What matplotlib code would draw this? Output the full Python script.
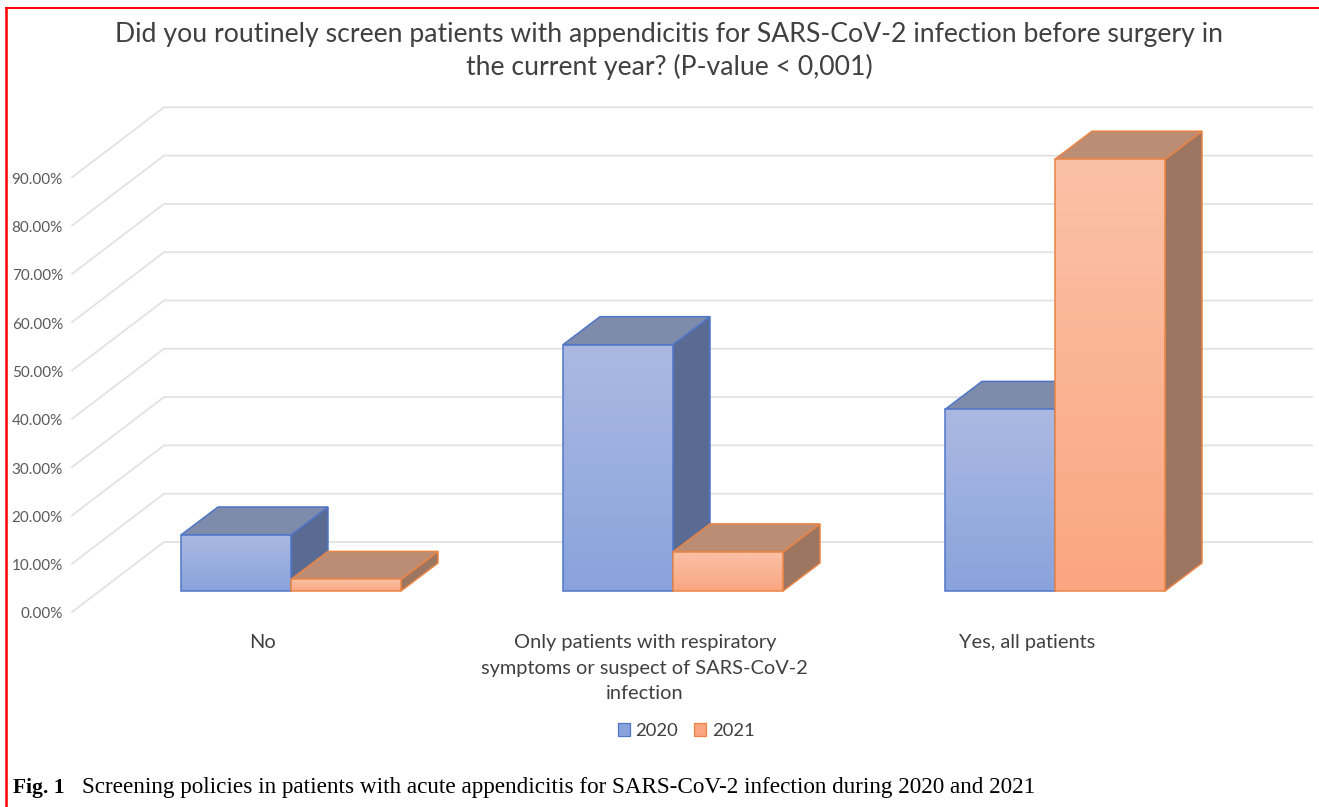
import matplotlib
matplotlib.use("Agg")
import matplotlib.pyplot as plt
import numpy as np
from matplotlib.colors import LinearSegmentedColormap
from matplotlib.lines import Line2D
from matplotlib.patches import Patch, Polygon

categories = ["No",
              "Only patients with respiratory\nsymptoms or suspect of SARS-CoV-2\ninfection",
              "Yes, all patients"]
years = ["2020", "2021"]
values_2020 = [11.6, 51.0, 37.6]
values_2021 = [2.4, 8.1, 89.4]
tick_values = [0, 10, 20, 30, 40, 50, 60, 70, 80, 90]
title = ("Did you routinely screen patients with appendicitis for SARS-CoV-2 infection before surgery in\n"
         "the current year? (P-value < 0,001)")
caption_bold = "Fig. 1"
caption = "Screening policies in patients with acute appendicitis for SARS-CoV-2 infection during 2020 and 2021"

W, H = 1319, 807
PX_X = 382.0    # pixels per category
PX_Y = 4.83     # pixels per percent
X0, Y0 = 291.0, 591.0   # pixel of category 0, value 0

BAR_W = 110 / PX_X
DEPTH_X = 37 / PX_X
DEPTH_Y = 28 / PX_Y
# walls of the 3d box, relative to the bar floor
WALL_LEFT = (164 - X0) / PX_X
WALL_RIGHT = (1312 - X0) / PX_X
WALL_BACK = (591 - 542) / PX_Y
SIDE_DX = 92 / PX_X
SIDE_DY = 70 / PX_Y
LABEL_SHIFT = -0.074

STYLE = {
    "2020": dict(edge="#4F76C6", top="#7E8BAB", side="#5A6B93", face=("#ABB9E2", "#8AA3DC")),
    "2021": dict(edge="#E98445", top="#BB8D74", side="#9D7661", face=("#FAC1A7", "#FAA680")),
}

plt.rcParams["font.family"] = ["Lato", "DejaVu Sans"]

fig = plt.figure(figsize=(W / 100, H / 100), dpi=100)
ax = fig.add_axes([0, 0, 1, 1])
ax.axis("off")


def draw_bar(ax, x, value, style):
    dx, dy = DEPTH_X, DEPTH_Y
    front = [(x, 0), (x + BAR_W, 0), (x + BAR_W, value), (x, value)]
    top = [(x, value), (x + BAR_W, value), (x + BAR_W + dx, value + dy), (x + dx, value + dy)]
    side = [(x + BAR_W, 0), (x + BAR_W + dx, dy), (x + BAR_W + dx, value + dy), (x + BAR_W, value)]
    ax.add_patch(Polygon(side, fc=style["side"], ec=style["edge"], lw=1.1, zorder=3))
    ax.add_patch(Polygon(top, fc=style["top"], ec=style["edge"], lw=1.1, zorder=3))
    cmap = LinearSegmentedColormap.from_list("face", style["face"])
    im = ax.imshow(np.linspace(0, 1, 64).reshape(-1, 1), cmap=cmap, aspect="auto", origin="upper",
                   extent=(x, x + BAR_W, 0, value), zorder=3)
    im.set_clip_path(Polygon(front, transform=ax.transData))
    ax.add_patch(Polygon(front, fc="none", ec=style["edge"], lw=1.1, zorder=3))


# back wall grid and the left side lines
for v in tick_values:
    ax.plot([WALL_LEFT - SIDE_DX, WALL_LEFT, WALL_RIGHT],
            [v + WALL_BACK - SIDE_DY, v + WALL_BACK, v + WALL_BACK],
            color="#E2E2E2", lw=1.3, zorder=1)
    ax.text((63 - X0) / PX_X, v + WALL_BACK - SIDE_DY - 2.5 / PX_Y, f"{v:.2f}%", ha="right", va="center",
            fontsize=11, color="#595959")

for i, cat in enumerate(categories):
    draw_bar(ax, i - BAR_W, values_2020[i], STYLE["2020"])
    draw_bar(ax, i, values_2021[i], STYLE["2021"])
    ax.text(i + LABEL_SHIFT, -8.9, cat, ha="center", va="top", fontsize=14.4,
            color="#404040", linespacing=1.62)

ax.set_xlim((0 - X0) / PX_X, (W - X0) / PX_X)
ax.set_ylim((Y0 - H) / PX_Y, Y0 / PX_Y)

fig.text(669 / W, 1 - 51 / H, title, ha="center", va="center", fontsize=19.2, color="#404040",
         linespacing=1.36)

handles = [Patch(fc=STYLE[y]["face"][1], ec=STYLE[y]["edge"], lw=0.9) for y in years]
fig.legend(handles, years, loc="center", bbox_to_anchor=(686 / W, 1 - 731 / H), ncol=2, frameon=False,
           fontsize=13.2, labelcolor="#404040", handlelength=0.65, handleheight=0.7, handletextpad=0.3,
           columnspacing=0.9)

fig.text(13 / W, 1 - 788 / H, caption_bold, ha="left", va="center", fontsize=15.5, fontweight="bold",
         family="Liberation Serif", color="black")
fig.text(82 / W, 1 - 788 / H, caption, ha="left", va="center", fontsize=16.7,
         family="Liberation Serif", color="black")

# red frame of the source picture
fig.add_artist(Line2D([6 / W, 6 / W], [0, 1 - 7.5 / H], color="#FF0000", lw=1.8))
fig.add_artist(Line2D([6 / W, 1], [1 - 7.5 / H, 1 - 7.5 / H], color="#FF0000", lw=1.4))

fig.savefig("out.png", dpi=100)
